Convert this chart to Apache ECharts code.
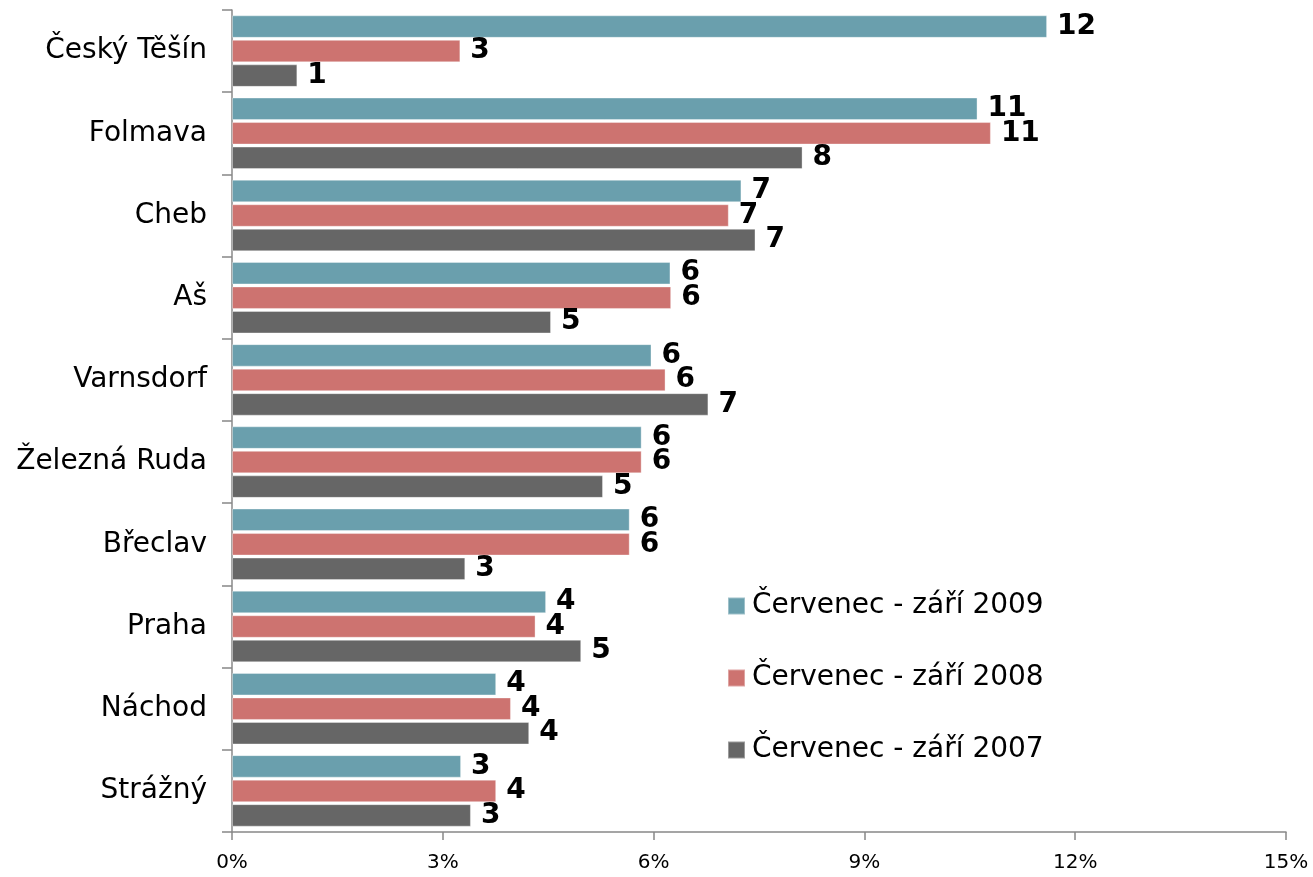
<!DOCTYPE html>
<html>
<head>
<meta charset="utf-8">
<script src="https://cdn.jsdelivr.net/npm/echarts@6/dist/echarts.min.js"></script>
<style>
html,body{margin:0;padding:0;background:#fff;}
#chart{width:1313px;height:877px;}
</style>
</head>
<body>
<div id="chart"></div>
<script>
const categories = ['Český Těšín','Folmava','Cheb','Aš','Varnsdorf','Železná Ruda','Břeclav','Praha','Náchod','Strážný'];
const seriesNames = ['Červenec - září 2009','Červenec - září 2008','Červenec - září 2007'];
const values2009 = [11.6, 10.61, 7.25, 6.24, 5.97, 5.83, 5.66, 4.47, 3.76, 3.26];
const values2008 = [3.25, 10.80, 7.07, 6.25, 6.17, 5.83, 5.66, 4.32, 3.97, 3.76];
const values2007 = [0.93, 8.12, 7.45, 4.54, 6.78, 5.28, 3.32, 4.97, 4.23, 3.40];
const xTicks = { min: 0, max: 15, step: 3 };
const colors = ['#6a9fad', '#cd7370', '#666666'];

const font = 'Verdana, "DejaVu Sans", sans-serif';
const chart = echarts.init(document.getElementById('chart'));
const mk = (name, data, color) => ({
  name: name,
  type: 'bar',
  data: data,
  barGap: '9%',
  barCategoryGap: '13%',
  itemStyle: { color: color, borderColor: 'rgba(255,255,255,0.35)', borderWidth: 1 },
  label: {
    show: true,
    position: 'right',
    distance: 10,
    formatter: p => String(Math.round(p.value)),
    fontFamily: font,
    fontWeight: 'bold',
    fontSize: 28,
    color: '#000'
  }
});
chart.setOption({
  animation: false,
  backgroundColor: '#fff',
  grid: { left: 232, right: 27, top: 10, bottom: 45, containLabel: false },
  legend: {
    orient: 'vertical',
    left: 722,
    top: 586,
    itemWidth: 17,
    itemHeight: 17,
    itemGap: 42,
    icon: 'rect',
    textStyle: { fontFamily: font, fontSize: 28, lineHeight: 30, color: '#000', padding: [0,0,0,2] },
    data: seriesNames
  },
  xAxis: {
    type: 'value',
    min: xTicks.min, max: xTicks.max, interval: xTicks.step,
    axisLine: { show: true, lineStyle: { color: '#888', width: 1.5 } },
    axisTick: { show: true, length: 8, lineStyle: { color: '#888', width: 1.5 } },
    splitLine: { show: false },
    axisLabel: { formatter: '{value}%', fontFamily: font, fontSize: 20, color: '#000', margin: 21 }
  },
  yAxis: {
    type: 'category',
    inverse: true,
    data: categories,
    axisLine: { show: true, lineStyle: { color: '#888', width: 1.5 } },
    axisTick: { show: true, length: 10, lineStyle: { color: '#888', width: 1.5 } },
    axisLabel: { fontFamily: font, fontSize: 28, color: '#000', margin: 25 }
  },
  series: [
    mk(seriesNames[0], values2009, colors[0]),
    mk(seriesNames[1], values2008, colors[1]),
    mk(seriesNames[2], values2007, colors[2])
  ]
});
</script>
</body>
</html>
